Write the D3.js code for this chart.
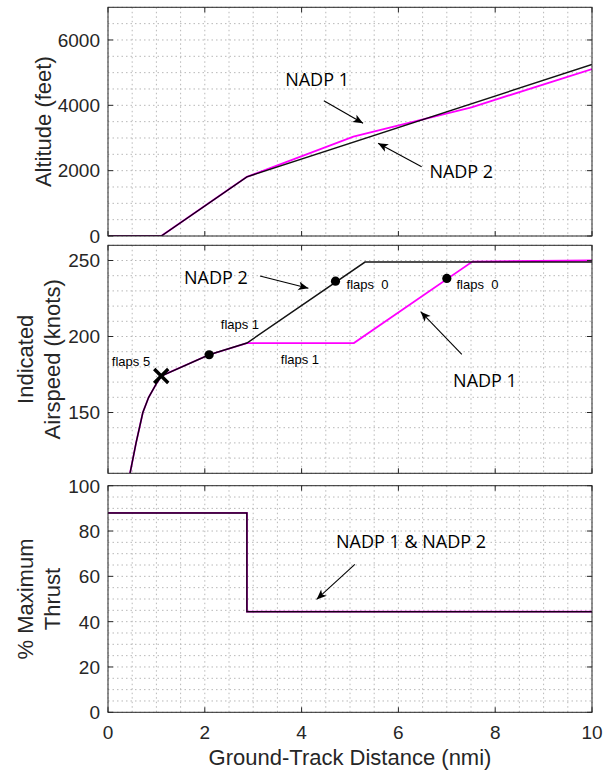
<!DOCTYPE html>
<html>
<head>
<meta charset="utf-8" />
<title>NADP 1 vs NADP 2 departure profiles</title>
<script src="https://cdn.jsdelivr.net/npm/d3@7"></script>
<style>
    body { margin: 0; background: #fff; }
    .tick-label { font: 19px "Liberation Sans", Arial, sans-serif; fill: #262626; }
    .axis-title { font: 22px "Liberation Sans", Arial, sans-serif; fill: #262626; }
    .note { font: 18px "Open Sans", "Noto Sans", sans-serif; fill: #000; }
    .flaps { font: 13px "Liberation Sans", Arial, sans-serif; fill: #000; }
</style>
</head>
<body>
<div id="chart"></div>
<script>

// ground-track distance ticks (nmi)
let xTicks = [0, 2, 4, 6, 8, 10];

// altitude (feet)
let altTicks = [0, 2000, 4000, 6000];
let altNadp1 = [[0, 0], [1.1, 0], [2.87, 1810], [5.07, 3040], [7.51, 3940], [10, 5110]];
let altNadp2 = [[0, 0], [1.1, 0], [2.87, 1810], [10, 5250]];

// indicated airspeed (knots)
let speedTicks = [150, 200, 250];
let speedNadp1 = [[0.455, 110], [0.58, 130], [0.72, 150], [0.84, 160], [1.0, 169], [1.1, 174], [2.09, 188],
                  [2.87, 195.7], [5.08, 195.7], [7.53, 249.3], [10, 250]];
let speedNadp2 = [[0.455, 110], [0.58, 130], [0.72, 150], [0.84, 160], [1.0, 169], [1.1, 174], [2.09, 188],
                  [2.87, 195.7], [5.31, 249], [10, 249]];
let flapDots = [[2.09, 188], [4.70, 236.4], [7.0, 238.2]];
let flaps5Point = [1.1, 174];

// % maximum thrust (same for both procedures)
let thrustTicks = [0, 20, 40, 60, 80, 100];
let thrustNadp1 = [[0, 88], [2.87, 88], [2.87, 44.4], [10, 44.4]];
let thrustNadp2 = [[0, 88], [2.87, 88], [2.87, 44.4], [10, 44.4]];

// annotation texts, anchored in data units
let altNotes = [
    { text: "NADP 1", x: 3.66, y: 4590, from: [4.46, 4141], to: [5.27, 3450] },
    { text: "NADP 2", x: 6.64, y: 1784, from: [6.48, 2121], to: [5.58, 2837] }
];
let speedNotes = [
    { text: "NADP 2", x: 1.57, y: 234.3, from: [3.14, 239.8], to: [4.14, 231.7] },
    { text: "NADP 1", x: 7.13, y: 167, from: [7.31, 188.3], to: [6.46, 216.3] }
];
let flapLabels = [
    { text: "flaps  0", x: 4.93, y: 231.2 },
    { text: "flaps  0", x: 7.20, y: 231.2 },
    { text: "flaps 1", x: 2.33, y: 204.9 },
    { text: "flaps 1", x: 3.57, y: 181.7 },
    { text: "flaps 5", x: 0.08, y: 180.6 }
];
let thrustNotes = [
    { text: "NADP 1 & NADP 2", x: 4.71, y: 72.3, from: [5.10, 65.3], to: [4.31, 49.8] }
];

let width = 603, height = 772;
let left = 108, right = 592;

let svg = d3.select("#chart").append("svg")
    .attr("width", width)
    .attr("height", height);

let defs = svg.append("defs");
defs.append("marker")
    .attr("id", "head")
    .attr("viewBox", "-11 -6 12 12")
    .attr("refX", 0).attr("refY", 0)
    .attr("markerUnits", "userSpaceOnUse")
    .attr("markerWidth", 12).attr("markerHeight", 12)
    .attr("orient", "auto")
    .append("path")
    .attr("d", "M0,0L-10,-4.2L-7.5,0L-10,4.2Z")
    .attr("fill", "#000");

let x = d3.scaleLinear().domain([0, 10]).range([left, right]);

let panels = [
    { id: "alt", top: 7.3, bottom: 236, domain: [0, 7000], ticks: altTicks, minor: 500,
      lines: [altNadp1, altNadp2], title: ["Altitude (feet)"] },
    { id: "spd", top: 245.3, bottom: 473.3, domain: [110, 260], ticks: speedTicks, minor: 10,
      lines: [speedNadp1, speedNadp2], title: ["Indicated", "Airspeed (knots)"] },
    { id: "thr", top: 485.7, bottom: 712.3, domain: [0, 100], ticks: thrustTicks, minor: 5,
      lines: [thrustNadp1, thrustNadp2], title: ["% Maximum", "Thrust"] }
];

let xMinor = d3.range(0, 10.01, 0.5);

panels.forEach(function (p, i) {
    let y = d3.scaleLinear().domain(p.domain).range([p.bottom, p.top]);
    p.y = y;
    let g = svg.append("g");

    defs.append("clipPath").attr("id", "clip-" + p.id)
        .append("rect")
        .attr("x", left).attr("y", p.top)
        .attr("width", right - left).attr("height", p.bottom - p.top);

    // grid
    let yMinor = d3.range(p.domain[0], p.domain[1] + 0.01, p.minor);
    g.selectAll(".hgrid").data(yMinor).enter().append("line")
        .attr("x1", left).attr("x2", right)
        .attr("y1", d => y(d)).attr("y2", d => y(d))
        .attr("stroke", "#b8b8b8").attr("stroke-width", 1)
        .attr("stroke-dasharray", "1.5,3");
    g.selectAll(".vgrid").data(xMinor).enter().append("line")
        .attr("y1", p.top).attr("y2", p.bottom)
        .attr("x1", d => x(d)).attr("x2", d => x(d))
        .attr("stroke", "#b8b8b8").attr("stroke-width", 1)
        .attr("stroke-dasharray", "1.5,3");

    // lines: NADP 1 magenta under NADP 2 black
    let line = d3.line().x(d => x(d[0])).y(d => y(d[1]));
    g.append("path").datum(p.lines[0])
        .attr("d", line).attr("fill", "none")
        .attr("stroke", "#ff00ff").attr("stroke-width", 1.8)
        .attr("clip-path", "url(#clip-" + p.id + ")");
    g.append("path").datum(p.lines[1])
        .attr("d", line).attr("fill", "none")
        .attr("stroke", "#000").attr("stroke-width", 1.5)
        .attr("stroke-opacity", 0.92)
        .attr("clip-path", "url(#clip-" + p.id + ")");

    // box and ticks
    g.append("rect")
        .attr("x", left).attr("y", p.top)
        .attr("width", right - left).attr("height", p.bottom - p.top)
        .attr("fill", "none").attr("stroke", "#262626").attr("stroke-width", 1);
    p.ticks.forEach(function (t) {
        g.append("line").attr("x1", left).attr("x2", left + 5)
            .attr("y1", y(t)).attr("y2", y(t)).attr("stroke", "#262626");
        g.append("line").attr("x1", right).attr("x2", right - 5)
            .attr("y1", y(t)).attr("y2", y(t)).attr("stroke", "#262626");
        g.append("text").attr("class", "tick-label")
            .attr("x", left - 8).attr("y", y(t)).attr("dy", "0.36em")
            .attr("text-anchor", "end").text(t);
    });
    xTicks.forEach(function (t) {
        g.append("line").attr("x1", x(t)).attr("x2", x(t))
            .attr("y1", p.bottom).attr("y2", p.bottom - 5).attr("stroke", "#262626");
        g.append("line").attr("x1", x(t)).attr("x2", x(t))
            .attr("y1", p.top).attr("y2", p.top + 5).attr("stroke", "#262626");
    });

    // y title
    let cy = (p.top + p.bottom) / 2;
    let baselines = p.title.length === 1 ? [51] : [33, 60];
    p.title.forEach(function (s, k) {
        svg.append("text").attr("class", "axis-title")
            .attr("transform", "translate(" + baselines[k] + "," + cy + ") rotate(-90)")
            .attr("text-anchor", "middle").text(s);
    });
});

// x tick labels and title
xTicks.forEach(function (t) {
    svg.append("text").attr("class", "tick-label")
        .attr("x", x(t)).attr("y", 738.5)
        .attr("text-anchor", "middle").text(t);
});
svg.append("text").attr("class", "axis-title")
    .attr("x", (left + right) / 2).attr("y", 765)
    .attr("text-anchor", "middle").text("Ground-Track Distance (nmi)");

// annotations
function addNotes(p, notes) {
    notes.forEach(function (n) {
        svg.append("text").attr("class", "note")
            .attr("x", x(n.x)).attr("y", p.y(n.y)).text(n.text);
        svg.append("line")
            .attr("x1", x(n.from[0])).attr("y1", p.y(n.from[1]))
            .attr("x2", x(n.to[0])).attr("y2", p.y(n.to[1]))
            .attr("stroke", "#000").attr("stroke-width", 1.1)
            .attr("marker-end", "url(#head)");
    });
}
addNotes(panels[0], altNotes);
addNotes(panels[1], speedNotes);
addNotes(panels[2], thrustNotes);

let ys = panels[1].y;
flapLabels.forEach(function (f) {
    svg.append("text").attr("class", "flaps")
        .attr("x", x(f.x)).attr("y", ys(f.y))
        .attr("xml:space", "preserve").style("white-space", "pre")
        .text(f.text);
});

svg.selectAll(".dot").data(flapDots).enter().append("circle")
    .attr("cx", d => x(d[0])).attr("cy", d => ys(d[1]))
    .attr("r", 4.6).attr("fill", "#000");

let cross = d3.symbol().type(d3.symbolX).size(130);
svg.append("path")
    .attr("d", cross())
    .attr("transform", "translate(" + x(flaps5Point[0]) + "," + ys(flaps5Point[1]) + ")")
    .attr("fill", "none").attr("stroke", "#000").attr("stroke-width", 3.4);

</script>
</body>
</html>
